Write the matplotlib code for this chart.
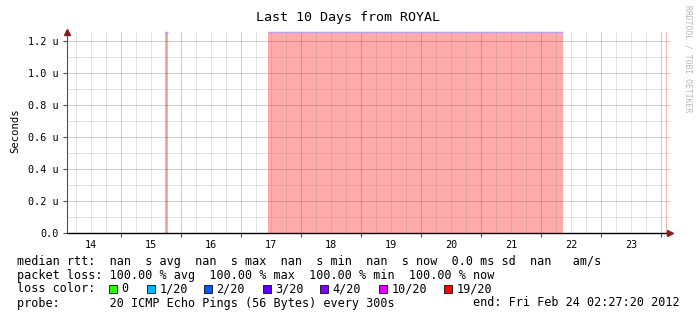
import numpy as np
import matplotlib.pyplot as plt

# time in days since Feb 14 2012 00:00, graph ends Fri Feb 24 02:27:20
t_start = 0.1023
t_end = 10.1023
day_pos = [0.5, 1.5, 2.5, 3.5, 4.5, 5.5, 6.5, 7.5, 8.5, 9.5]
day_labels = ['14', '15', '16', '17', '18', '19', '20', '21', '22', '23']

# periods with 100% packet loss (days)
loss_start = [1.736, 3.452]
loss_end = [1.780, 8.364]

y_ticks = [0, 0.2e-6, 0.4e-6, 0.6e-6, 0.8e-6, 1.0e-6, 1.2e-6]
y_labels = ['0.0', '0.2 u', '0.4 u', '0.6 u', '0.8 u', '1.0 u', '1.2 u']

loss_names = ['0', '1/20', '2/20', '3/20', '4/20', '10/20', '19/20']
loss_colors = ['#26ff00', '#00b8ff', '#0059ff', '#5e00ff', '#7e00ff', '#dd00ff', '#ff0000']

row_rtt = 'median rtt:  nan  s avg  nan  s max  nan  s min  nan  s now  0.0 ms sd  nan   am/s'
row_loss = 'packet loss: 100.00 % avg  100.00 % max  100.00 % min  100.00 % now'
row_probe = 'probe:       20 ICMP Echo Pings (56 Bytes) every 300s'
end_text = 'end: Fri Feb 24 02:27:20 2012'

W, H = 697, 321
mono = 'DejaVu Sans Mono'


def fx(px):
    return px / W


def fy(py):
    return 1 - py / H


fig = plt.figure(figsize=(W / 100, H / 100), dpi=100)
ax = fig.add_axes([fx(67), fy(233), 603 / W, 201 / H])
ax.set_xlim(t_start, t_start + 603 / 60)
ax.set_ylim(0, 1.25625e-6)

# loss area
for a, b in zip(loss_start, loss_end):
    ax.axvspan(a, b, color='#ff0000', alpha=0.33, lw=0, zorder=1)
    ax.plot([a, b], [1.25625e-6, 1.25625e-6], color='#c0a0e8', lw=1.0, zorder=3,
            clip_on=False, solid_capstyle='butt')

# grid
for x in np.arange(0.25, 10.2, 0.25):
    if abs(x - round(x)) < 1e-6:
        ax.axvline(x, color='#ff0000', alpha=0.28, lw=0.72, zorder=2)
    else:
        ax.axvline(x, color='#808080', alpha=0.22, lw=0.72, zorder=2)
ax.axvline(10.08, color='#ff0000', alpha=0.28, lw=0.72, zorder=2)
for y in np.arange(0.1e-6, 1.25e-6, 0.1e-6):
    if round(y * 1e7) % 2 == 0:
        ax.axhline(y, color='#ff0000', alpha=0.28, lw=0.72, zorder=2)
    else:
        ax.axhline(y, color='#808080', alpha=0.22, lw=0.72, zorder=2)

for s in ['top', 'right']:
    ax.spines[s].set_visible(False)
ax.spines['left'].set_color('#505050')
ax.spines['left'].set_linewidth(0.8)
ax.spines['bottom'].set_color('black')
ax.spines['bottom'].set_linewidth(1.0)
ax.plot([1.0], [0], marker='>', color='#8b1a1a', markersize=4, transform=ax.transAxes, clip_on=False, zorder=5)
ax.plot([0], [1.0], marker='^', color='#8b1a1a', markersize=4, transform=ax.transAxes, clip_on=False, zorder=5)

ax.set_yticks(y_ticks)
ax.set_yticklabels(y_labels, fontfamily=mono, fontsize=7.3)
ax.tick_params(axis='y', length=3, width=0.8, pad=3, color='#505050')
ax.set_xticks(day_pos)
ax.set_xticklabels(day_labels, fontfamily=mono, fontsize=7.3)
ax.tick_params(axis='x', length=0, pad=5)
ax.set_xticks(np.arange(1, 11), minor=True)
ax.tick_params(axis='x', which='minor', length=3, width=0.8, color='#505050')

fig.text(fx(348), fy(17), 'Last 10 Days from ROYAL', ha='center', va='center',
         fontfamily=mono, fontsize=9.6)
fig.text(fx(15), fy(131), 'Seconds', rotation=90, ha='center', va='center',
         fontfamily=mono, fontsize=7.6)
fig.text(fx(688), fy(5), 'RRDTOOL / TOBI OETIKER', rotation=-90, ha='center', va='top',
         fontfamily=mono, fontsize=5.8, color='#b8b8b8')

# legend
fs = 8.45
fig.text(fx(17), fy(261), row_rtt, ha='left', va='center', fontfamily=mono, fontsize=fs)
fig.text(fx(17), fy(275), row_loss, ha='left', va='center', fontfamily=mono, fontsize=fs)
fig.text(fx(17), fy(289), 'loss color:', ha='left', va='center', fontfamily=mono, fontsize=fs)
box_x = [109, 147, 204, 263, 320, 379, 444]
for bx, name, c in zip(box_x, loss_names, loss_colors):
    fig.patches.append(plt.Rectangle((fx(bx), fy(293)), 8 / W, 8 / H, transform=fig.transFigure,
                                     facecolor=c, edgecolor='#202020', lw=0.7))
    fig.text(fx(bx + 12.5), fy(289), name, ha='left', va='center', fontfamily=mono, fontsize=fs)
fig.text(fx(17), fy(303), row_probe, ha='left', va='center', fontfamily=mono, fontsize=fs)
fig.text(fx(680), fy(303), end_text, ha='right', va='center', fontfamily=mono, fontsize=fs)

fig.savefig('out.png', dpi=100)
